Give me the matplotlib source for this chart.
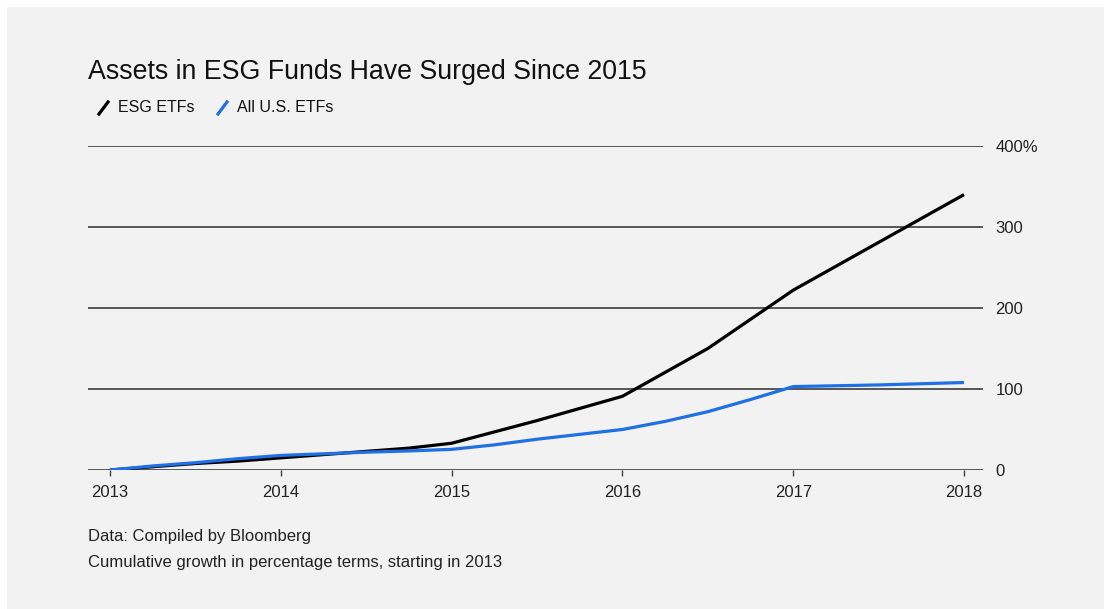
import matplotlib.pyplot as plt
from matplotlib.lines import Line2D
from matplotlib.patches import Rectangle

plt.rcParams['font.family'] = ['Liberation Sans', 'DejaVu Sans']

# cumulative growth, % since start of 2013
esg_x = [2013, 2013.25, 2013.5, 2013.75, 2014, 2014.25, 2014.5, 2014.75, 2015,
         2015.25, 2015.5, 2015.75, 2016, 2016.5, 2017, 2017.5, 2018]
esg_y = [0, 4, 8, 11, 15, 19, 23, 27, 33,
         47, 61, 76, 91, 150, 222, 281, 340]

all_x = [2013, 2013.25, 2013.5, 2013.75, 2014, 2014.25, 2014.5, 2014.75, 2015,
         2015.25, 2015.5, 2015.75, 2016, 2016.25, 2016.5, 2016.75, 2017, 2017.5, 2018]
all_y = [0, 5, 9, 14, 18, 20, 22, 23.5, 25.5,
         31, 38, 44, 50, 60, 72, 87, 103, 105, 108]

years = [2013, 2014, 2015, 2016, 2017, 2018]
y_ticks = [0, 100, 200, 300, 400]
y_labels = ['0', '100', '200', '300', '400%']

bg = '#f2f2f2'
blue = '#1f6fe5'
W, H = 1104, 609

fig = plt.figure(figsize=(W / 100, H / 100), dpi=100)
fig.patch.set_facecolor('white')
fig.patches.append(Rectangle((7 / W, 0), 1, 1 - 7 / H, transform=fig.transFigure,
                             facecolor=bg, edgecolor='none', zorder=-10))

ax = fig.add_axes([88 / W, 1 - 470 / H, (983 - 88) / W, 324 / H])
ax.set_facecolor('none')

ax.plot(esg_x, esg_y, color='black', lw=2.3, solid_capstyle='butt', zorder=3)
ax.plot(all_x, all_y, color=blue, lw=2.3, solid_capstyle='butt', zorder=4)

ax.set_xlim(2013 - 22 / 170.8, 2018 + 19 / 170.8)
ax.set_ylim(0, 400)

for s in ax.spines.values():
    s.set_visible(False)
for v in y_ticks:
    ax.axhline(v, color='#3c3c3c', lw=1.2, zorder=1)

ax.yaxis.tick_right()
ax.set_yticks(y_ticks)
ax.set_yticklabels(y_labels)
ax.tick_params(axis='y', length=0, pad=9, labelsize=12, labelcolor='#222222')
ax.set_xticks(years)
ax.set_xticklabels([str(y) for y in years])
ax.tick_params(axis='x', length=4.5, width=1, color='#3c3c3c', pad=6.5,
               labelsize=12, labelcolor='#222222')

fig.text(88 / W, 1 - 72 / H, 'Assets in ESG Funds Have Surged Since 2015',
         fontsize=19.3, color='#111111', va='center', ha='left')

# legend
fig.lines.append(Line2D([99 / W, 108 / W], [1 - 114 / H, 1 - 102 / H],
                        transform=fig.transFigure, color='black', lw=2.3))
fig.text(118 / W, 1 - 108 / H, 'ESG ETFs', fontsize=11.5, va='center', color='#111111')
fig.lines.append(Line2D([218 / W, 227 / W], [1 - 114 / H, 1 - 102 / H],
                        transform=fig.transFigure, color=blue, lw=2.3))
fig.text(237 / W, 1 - 108 / H, 'All U.S. ETFs', fontsize=11.5, va='center', color='#111111')

fig.text(88 / W, 1 - 537 / H, 'Data: Compiled by Bloomberg', fontsize=12,
         va='center', color='#222222')
fig.text(88 / W, 1 - 562 / H, 'Cumulative growth in percentage terms, starting in 2013',
         fontsize=12, va='center', color='#222222')

fig.savefig('out.png', dpi=100, facecolor=fig.get_facecolor())
